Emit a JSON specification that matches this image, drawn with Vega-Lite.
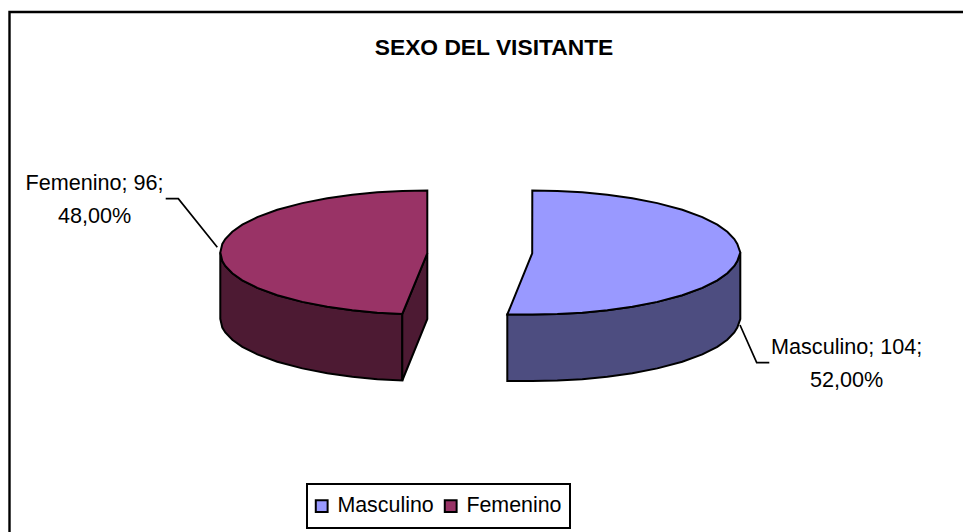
{"$schema":"https://vega.github.io/schema/vega-lite/v6.json","width":963,"height":532,"autosize":{"type":"fit","contains":"padding"},"padding":0,"background":"white","config":{"view":{"stroke":null},"text":{"font":"Liberation Sans"}},
"datasets":{
"sides":[
{"part":"F-front","x":220.3,"y":252.5,"y2":319},{"part":"F-front","x":222.3,"y":261.1,"y2":327.6},{"part":"F-front","x":225.3,"y":266,"y2":332.5},{"part":"F-front","x":232.3,"y":273.3,"y2":339.8},{"part":"F-front","x":242.3,"y":280.3,"y2":346.8},{"part":"F-front","x":257.3,"y":287.9,"y2":354.4},{"part":"F-front","x":277.3,"y":295.2,"y2":361.7},{"part":"F-front","x":302.3,"y":301.9,"y2":368.4},{"part":"F-front","x":327.3,"y":306.8,"y2":373.3},{"part":"F-front","x":352.3,"y":310.3,"y2":376.8},{"part":"F-front","x":377.3,"y":312.7,"y2":379.2},{"part":"F-front","x":402.3,"y":314,"y2":380.5},
{"part":"F-cut","x":402.3,"y":314,"y2":380.5},{"part":"F-cut","x":427.3,"y":253.3,"y2":319}
],
"sidesM":[
{"part":"M-front","x":507.3,"y":314.5,"y2":381},{"part":"M-front","x":532.3,"y":314.5,"y2":381},{"part":"M-front","x":557.3,"y":314,"y2":380.5},{"part":"M-front","x":582.3,"y":312.7,"y2":379.2},{"part":"M-front","x":607.3,"y":310.3,"y2":376.8},{"part":"M-front","x":632.3,"y":306.8,"y2":373.3},{"part":"M-front","x":657.3,"y":301.9,"y2":368.4},{"part":"M-front","x":682.3,"y":295.2,"y2":361.7},{"part":"M-front","x":702.3,"y":287.9,"y2":354.4},{"part":"M-front","x":717.3,"y":280.3,"y2":346.8},{"part":"M-front","x":727.3,"y":273.3,"y2":339.8},{"part":"M-front","x":734.3,"y":266,"y2":332.5},{"part":"M-front","x":737.3,"y":261.1,"y2":327.6},{"part":"M-front","x":740.3,"y":252.5,"y2":319}
],
"tops":[
{"sexo":"Femenino","x":220.3,"y":252.5,"y2":252.5},{"sexo":"Femenino","x":222.3,"y":243.9,"y2":261.1},{"sexo":"Femenino","x":225.3,"y":239,"y2":266},{"sexo":"Femenino","x":232.3,"y":231.7,"y2":273.3},{"sexo":"Femenino","x":242.3,"y":224.7,"y2":280.3},{"sexo":"Femenino","x":257.3,"y":217.1,"y2":287.9},{"sexo":"Femenino","x":277.3,"y":209.8,"y2":295.2},{"sexo":"Femenino","x":302.3,"y":203.1,"y2":301.9},{"sexo":"Femenino","x":327.3,"y":198.2,"y2":306.8},{"sexo":"Femenino","x":352.3,"y":194.7,"y2":310.3},{"sexo":"Femenino","x":377.3,"y":192.3,"y2":312.7},{"sexo":"Femenino","x":402.3,"y":191,"y2":314},{"sexo":"Femenino","x":427.3,"y":190.5,"y2":253.3},
{"sexo":"Masculino","x":507.3,"y":314.5,"y2":314.5},{"sexo":"Masculino","x":532.2,"y":253.3,"y2":314.5},{"sexo":"Masculino","x":532.3,"y":190.5,"y2":314.5},{"sexo":"Masculino","x":557.3,"y":191,"y2":314},{"sexo":"Masculino","x":582.3,"y":192.3,"y2":312.7},{"sexo":"Masculino","x":607.3,"y":194.7,"y2":310.3},{"sexo":"Masculino","x":632.3,"y":198.2,"y2":306.8},{"sexo":"Masculino","x":657.3,"y":203.1,"y2":301.9},{"sexo":"Masculino","x":682.3,"y":209.8,"y2":295.2},{"sexo":"Masculino","x":702.3,"y":217.1,"y2":287.9},{"sexo":"Masculino","x":717.3,"y":224.7,"y2":280.3},{"sexo":"Masculino","x":727.3,"y":231.7,"y2":273.3},{"sexo":"Masculino","x":734.3,"y":239,"y2":266},{"sexo":"Masculino","x":737.3,"y":243.9,"y2":261.1},{"sexo":"Masculino","x":740.3,"y":252.5,"y2":252.5}
],
"leaders":[
{"sexo":"Femenino","n":1,"x":165.7,"y":198.7},{"sexo":"Femenino","n":2,"x":178.3,"y":198.7},{"sexo":"Femenino","n":3,"x":217.3,"y":247.3},
{"sexo":"Masculino","n":1,"x":740,"y":325},{"sexo":"Masculino","n":2,"x":756.7,"y":362.7},{"sexo":"Masculino","n":3,"x":769.3,"y":362.7}
],
"labels":[
{"t":"Femenino; 96;","x":94.5,"y":190},{"t":"48,00%","x":94.5,"y":222.7},
{"t":"Masculino; 104;","x":846.7,"y":354},{"t":"52,00%","x":846.7,"y":386.7}
],
"titleRow":[{"t":"SEXO DEL VISITANTE","x":494,"y":54.5}],
"frame":[{"x":9.5,"x2":985,"y":12,"y2":560}],
"legendBox":[{"x":307,"x2":570,"y":484,"y2":528}]
},
"layer":[
{"data":{"name":"frame"},"mark":{"type":"rect","fill":"white","stroke":"black","strokeWidth":2.4,"clip":true},"encoding":{
"x":{"field":"x","type":"quantitative","scale":{"domain":[0,963],"nice":false,"zero":false},"axis":null},
"x2":{"field":"x2"},
"y":{"field":"y","type":"quantitative","scale":{"domain":[532,0],"nice":false,"zero":false},"axis":null},
"y2":{"field":"y2"}}},
{"data":{"name":"legendBox"},"mark":{"type":"rect","fill":"white","stroke":"black","strokeWidth":2},"encoding":{
"x":{"field":"x","type":"quantitative"},"x2":{"field":"x2"},"y":{"field":"y","type":"quantitative"},"y2":{"field":"y2"}}},
{"data":{"name":"sides"},"mark":{"type":"area","orient":"vertical","fill":"#4D1A33","stroke":"black","strokeWidth":2},"encoding":{
"x":{"field":"x","type":"quantitative"},"y":{"field":"y","type":"quantitative","aggregate":"min"},"y2":{"field":"y2","aggregate":"max"},"detail":{"field":"part"}}},
{"data":{"name":"sidesM"},"mark":{"type":"area","orient":"vertical","fill":"#4D4D80","stroke":"black","strokeWidth":2},"encoding":{
"x":{"field":"x","type":"quantitative"},"y":{"field":"y","type":"quantitative","aggregate":"min"},"y2":{"field":"y2","aggregate":"max"},"detail":{"field":"part"}}},
{"data":{"name":"tops"},"mark":{"type":"area","orient":"vertical","stroke":"black","strokeWidth":2,"opacity":1},"encoding":{
"x":{"field":"x","type":"quantitative"},"y":{"field":"y","type":"quantitative","aggregate":"min"},"y2":{"field":"y2","aggregate":"max"},
"color":{"field":"sexo","type":"nominal","scale":{"domain":["Masculino","Femenino"],"range":["#9999FF","#993366"]},
"legend":{"title":null,"orient":"none","legendX":302,"legendY":486,"direction":"horizontal","columns":2,"symbolType":"square","symbolSize":140,"symbolStrokeColor":"black","symbolStrokeWidth":2,"symbolOpacity":1,"labelFont":"Liberation Sans","labelFontSize":21.4,"labelColor":"black","labelOffset":5,"columnPadding":6,"padding":9,"labelLimit":200}}}},
{"data":{"name":"leaders"},"mark":{"type":"line","color":"black","strokeWidth":1.7},"encoding":{
"x":{"field":"x","type":"quantitative"},"y":{"field":"y","type":"quantitative"},"detail":{"field":"sexo"},"order":{"field":"n"}}},
{"data":{"name":"labels"},"mark":{"type":"text","align":"center","baseline":"alphabetic","fontSize":21.6,"color":"black","font":"Liberation Sans"},"encoding":{
"x":{"field":"x","type":"quantitative"},"y":{"field":"y","type":"quantitative"},"text":{"field":"t"}}},
{"data":{"name":"titleRow"},"mark":{"type":"text","align":"center","baseline":"alphabetic","fontSize":22.8,"fontWeight":"bold","color":"black","font":"Liberation Sans"},"encoding":{
"x":{"field":"x","type":"quantitative"},"y":{"field":"y","type":"quantitative"},"text":{"field":"t"}}}
]}
